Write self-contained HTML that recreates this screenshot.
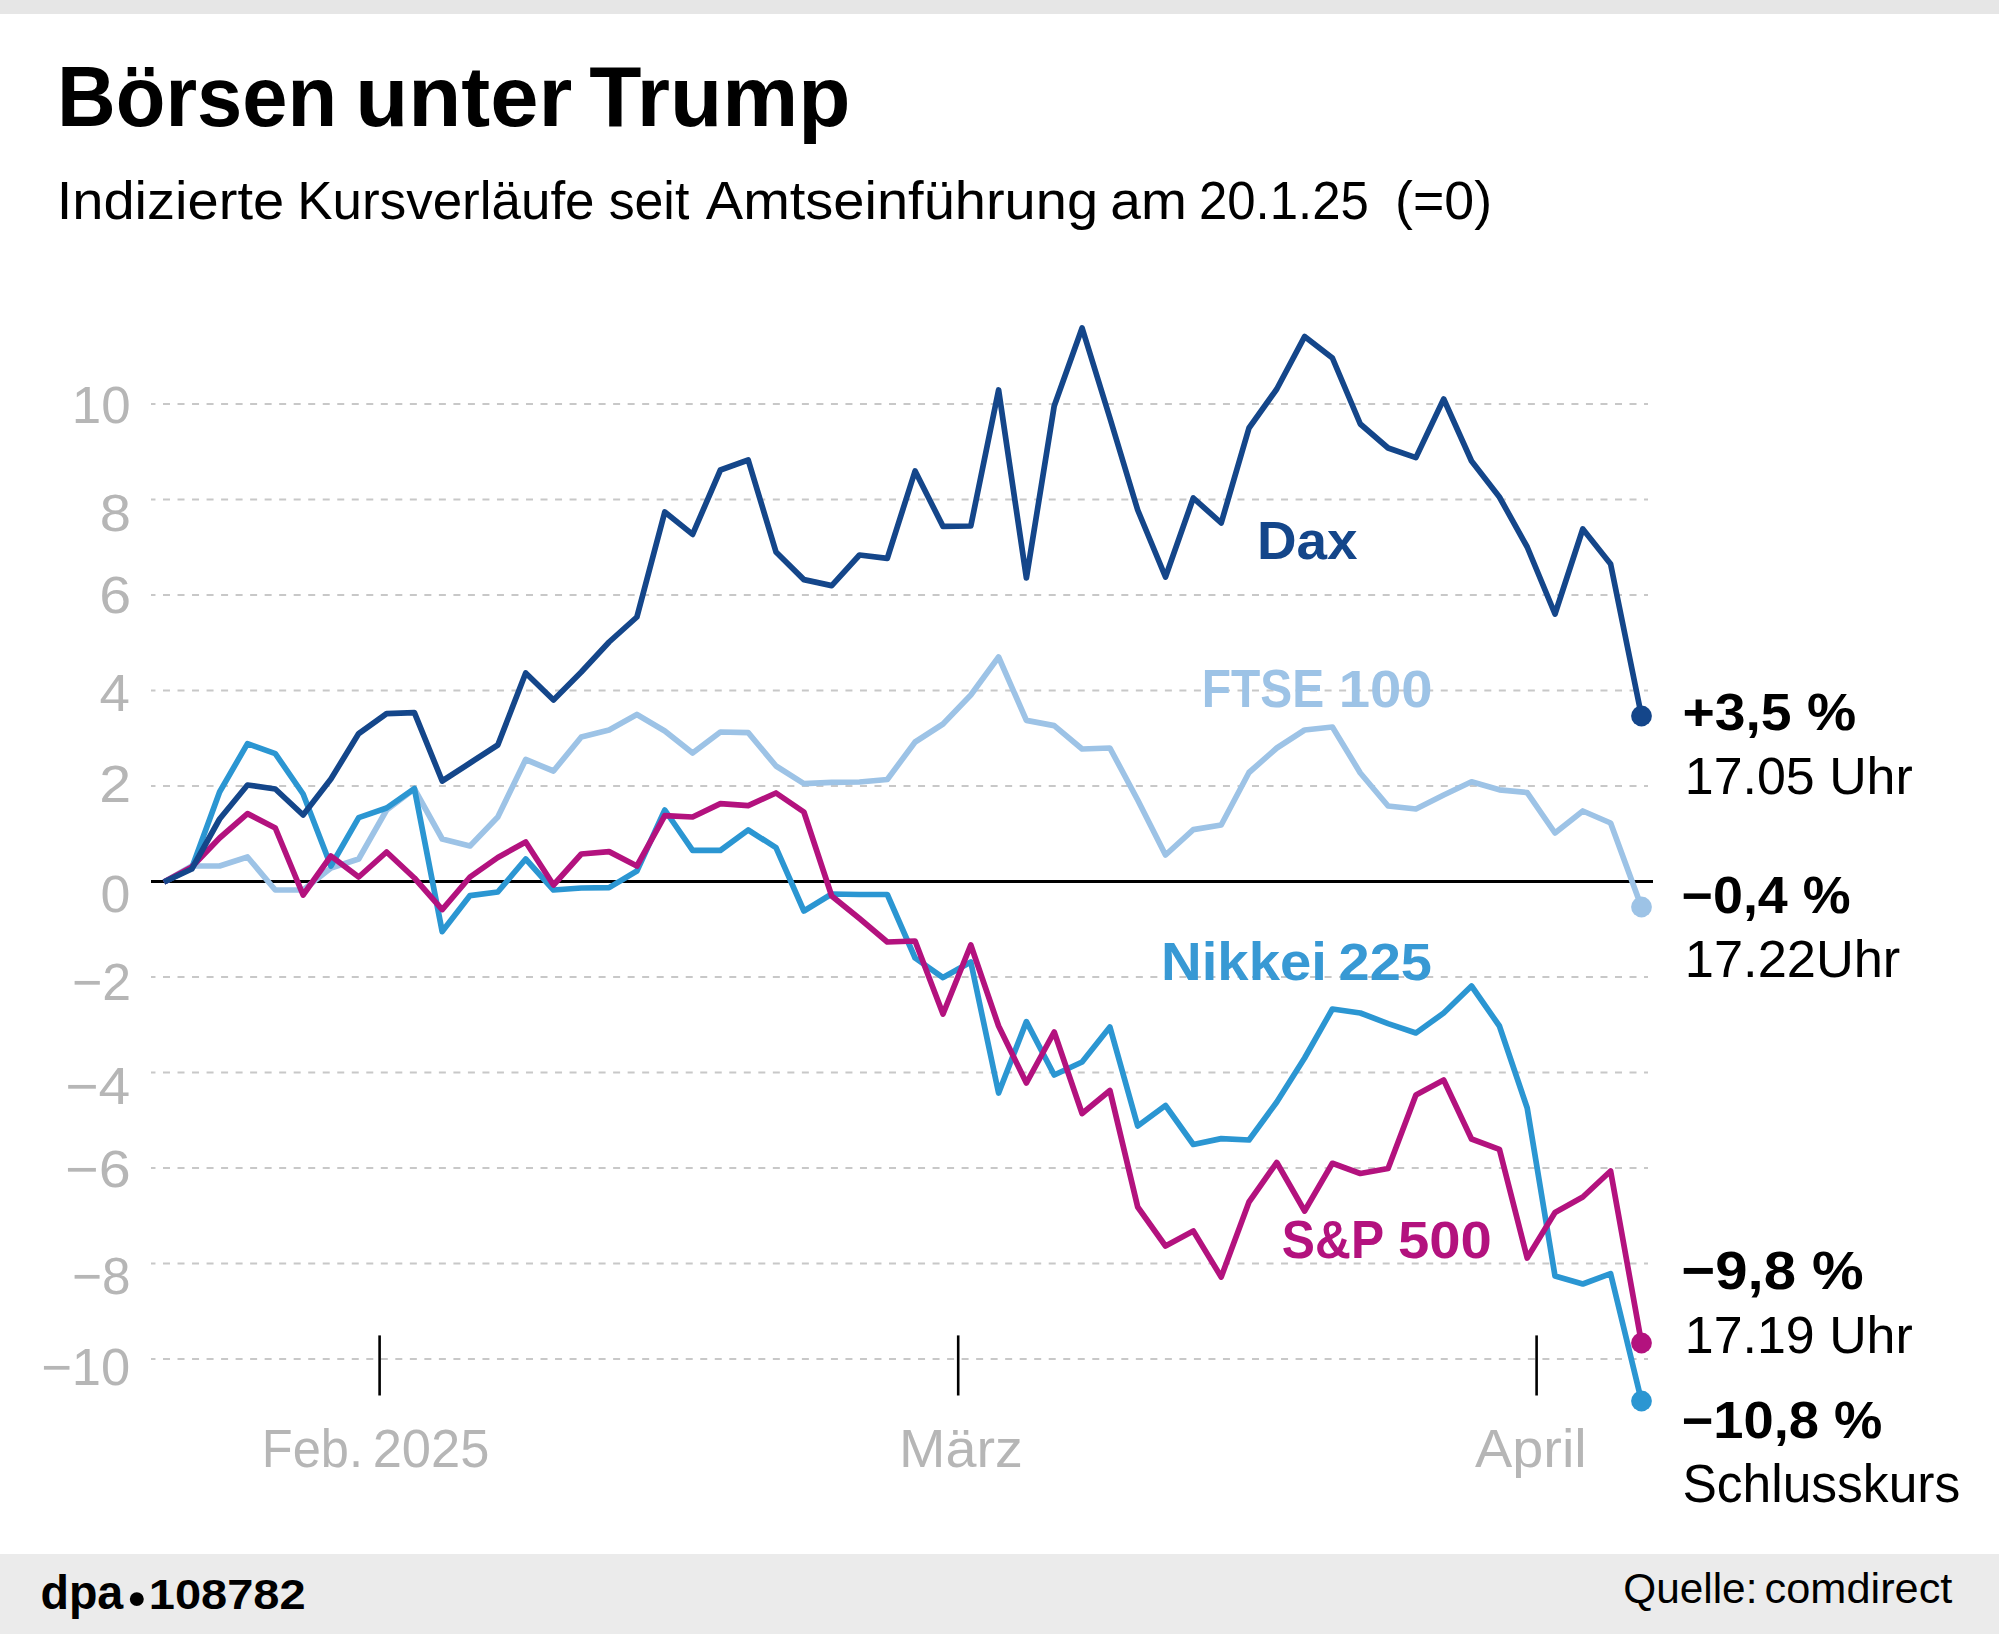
<!DOCTYPE html>
<html lang="de"><head><meta charset="utf-8"><title>Börsen unter Trump</title>
<style>html,body{margin:0;padding:0;background:#fff}svg{display:block}text{font-family:'Liberation Sans', sans-serif;white-space:pre}</style></head>
<body>
<svg width="1999" height="1634" viewBox="0 0 1999 1634">
<rect width="1999" height="1634" fill="#fff"/>
<rect x="0" y="0" width="1999" height="14" fill="#e6e6e6"/>
<rect x="0" y="1554" width="1999" height="80" fill="#ebebeb"/>
<line x1="151" x2="1648" y1="404.00" y2="404.00" stroke="#c8c8c8" stroke-width="2.1" stroke-dasharray="7 7.52" stroke-dashoffset="2.52"/>
<line x1="151" x2="1648" y1="499.50" y2="499.50" stroke="#c8c8c8" stroke-width="2.1" stroke-dasharray="7 7.52" stroke-dashoffset="2.52"/>
<line x1="151" x2="1648" y1="595.00" y2="595.00" stroke="#c8c8c8" stroke-width="2.1" stroke-dasharray="7 7.52" stroke-dashoffset="2.52"/>
<line x1="151" x2="1648" y1="690.50" y2="690.50" stroke="#c8c8c8" stroke-width="2.1" stroke-dasharray="7 7.52" stroke-dashoffset="2.52"/>
<line x1="151" x2="1648" y1="786.00" y2="786.00" stroke="#c8c8c8" stroke-width="2.1" stroke-dasharray="7 7.52" stroke-dashoffset="2.52"/>
<line x1="151" x2="1648" y1="977.00" y2="977.00" stroke="#c8c8c8" stroke-width="2.1" stroke-dasharray="7 7.52" stroke-dashoffset="2.52"/>
<line x1="151" x2="1648" y1="1072.50" y2="1072.50" stroke="#c8c8c8" stroke-width="2.1" stroke-dasharray="7 7.52" stroke-dashoffset="2.52"/>
<line x1="151" x2="1648" y1="1168.00" y2="1168.00" stroke="#c8c8c8" stroke-width="2.1" stroke-dasharray="7 7.52" stroke-dashoffset="2.52"/>
<line x1="151" x2="1648" y1="1263.50" y2="1263.50" stroke="#c8c8c8" stroke-width="2.1" stroke-dasharray="7 7.52" stroke-dashoffset="2.52"/>
<line x1="151" x2="1648" y1="1359.00" y2="1359.00" stroke="#c8c8c8" stroke-width="2.1" stroke-dasharray="7 7.52" stroke-dashoffset="2.52"/>
<line x1="151" x2="1653" y1="881.5" y2="881.5" stroke="#000" stroke-width="2.9"/>
<line x1="379.6" x2="379.6" y1="1335.4" y2="1395.5" stroke="#000" stroke-width="2.6"/>
<line x1="958.2" x2="958.2" y1="1335.4" y2="1395.5" stroke="#000" stroke-width="2.6"/>
<line x1="1536.6" x2="1536.6" y1="1335.4" y2="1395.5" stroke="#000" stroke-width="2.6"/>
<polyline points="164.0,882.0 191.8,866.0 219.6,866.0 247.5,857.0 275.3,890.0 303.1,890.0 330.9,868.0 358.7,859.0 386.6,810.0 414.4,789.0 442.2,839.0 470.0,846.0 497.8,817.0 525.7,759.5 553.5,771.0 581.3,737.0 609.1,730.0 636.9,714.5 664.8,731.0 692.6,753.0 720.4,732.0 748.2,732.6 776.0,766.0 803.9,783.6 831.7,782.4 859.5,782.0 887.3,779.5 915.1,742.0 943.0,724.0 970.8,695.0 998.6,657.0 1026.4,720.4 1054.2,725.6 1082.1,749.0 1109.9,748.0 1137.7,800.0 1165.5,855.0 1193.3,829.6 1221.2,825.0 1249.0,772.5 1276.8,748.0 1304.6,730.0 1332.4,727.0 1360.3,773.0 1388.1,806.0 1415.9,809.0 1443.7,795.0 1471.5,781.8 1499.4,789.8 1527.2,792.6 1555.0,833.0 1582.8,811.0 1610.6,823.0 1641.5,907.0" fill="none" stroke="#9dc3e6" stroke-width="5.7" stroke-linejoin="round" stroke-linecap="butt"/>
<polyline points="164.0,882.0 191.8,868.0 219.6,792.0 247.5,743.6 275.3,753.6 303.1,794.0 330.9,866.0 358.7,817.6 386.6,808.0 414.4,788.6 442.2,931.6 470.0,895.6 497.8,892.0 525.7,859.0 553.5,890.0 581.3,888.0 609.1,887.6 636.9,871.0 664.8,810.0 692.6,850.4 720.4,850.4 748.2,830.0 776.0,847.6 803.9,911.0 831.7,894.0 859.5,894.5 887.3,894.5 915.1,958.0 943.0,977.6 970.8,962.0 998.6,1093.0 1026.4,1021.6 1054.2,1075.0 1082.1,1062.0 1109.9,1027.0 1137.7,1126.0 1165.5,1105.5 1193.3,1144.5 1221.2,1138.6 1249.0,1140.0 1276.8,1102.0 1304.6,1058.0 1332.4,1009.0 1360.3,1013.0 1388.1,1023.6 1415.9,1033.0 1443.7,1013.0 1471.5,986.0 1499.4,1026.0 1527.2,1108.0 1555.0,1276.0 1582.8,1284.0 1610.6,1273.6 1641.5,1401.0" fill="none" stroke="#2b96d2" stroke-width="5.7" stroke-linejoin="round" stroke-linecap="butt"/>
<polyline points="164.0,882.0 191.8,867.0 219.6,838.0 247.5,813.6 275.3,828.0 303.1,895.0 330.9,856.0 358.7,877.0 386.6,852.0 414.4,878.0 442.2,909.6 470.0,877.0 497.8,857.5 525.7,842.0 553.5,885.0 581.3,854.0 609.1,851.6 636.9,866.0 664.8,815.6 692.6,817.0 720.4,803.6 748.2,805.6 776.0,793.0 803.9,812.0 831.7,896.0 859.5,918.5 887.3,942.0 915.1,941.0 943.0,1014.0 970.8,945.0 998.6,1026.0 1026.4,1083.0 1054.2,1032.0 1082.1,1113.5 1109.9,1090.5 1137.7,1207.0 1165.5,1246.0 1193.3,1231.0 1221.2,1277.0 1249.0,1202.0 1276.8,1162.5 1304.6,1211.0 1332.4,1163.3 1360.3,1173.5 1388.1,1168.5 1415.9,1095.0 1443.7,1080.0 1471.5,1139.0 1499.4,1149.3 1527.2,1258.0 1555.0,1212.5 1582.8,1197.0 1610.6,1171.0 1641.5,1343.0" fill="none" stroke="#b3127e" stroke-width="5.7" stroke-linejoin="round" stroke-linecap="butt"/>
<polyline points="164.0,882.0 191.8,869.0 219.6,819.0 247.5,785.0 275.3,789.0 303.1,815.0 330.9,779.0 358.7,733.6 386.6,713.6 414.4,712.6 442.2,781.0 470.0,763.0 497.8,745.0 525.7,673.0 553.5,700.0 581.3,672.0 609.1,642.0 636.9,617.0 664.8,512.0 692.6,534.4 720.4,470.0 748.2,460.0 776.0,552.0 803.9,579.6 831.7,585.6 859.5,555.0 887.3,558.4 915.1,471.0 943.0,526.4 970.8,526.0 998.6,390.0 1026.4,578.0 1054.2,406.0 1082.1,328.0 1109.9,418.0 1137.7,510.0 1165.5,577.0 1193.3,498.0 1221.2,523.0 1249.0,428.0 1276.8,389.0 1304.6,336.6 1332.4,358.0 1360.3,424.0 1388.1,448.0 1415.9,457.6 1443.7,399.0 1471.5,461.0 1499.4,497.0 1527.2,547.0 1555.0,614.0 1582.8,529.0 1610.6,564.0 1641.5,716.0" fill="none" stroke="#14468a" stroke-width="5.7" stroke-linejoin="round" stroke-linecap="butt"/>
<circle cx="1641.5" cy="907" r="10.4" fill="#9dc3e6"/>
<circle cx="1641.5" cy="1401" r="10.4" fill="#2b96d2"/>
<circle cx="1641.5" cy="1343" r="10.4" fill="#b3127e"/>
<circle cx="1641.5" cy="716" r="10.4" fill="#14468a"/>
<text transform="translate(57.00,126.10) scale(0.9572,1)" font-weight="bold" font-size="85" fill="#000">Börsen </text>
<text transform="translate(355.19,126.10) scale(1.0224,1)" font-weight="bold" font-size="85" fill="#000">unter </text>
<text transform="translate(589.35,126.10) scale(1.0051,1)" font-weight="bold" font-size="85" fill="#000">Trump</text>
<text transform="translate(56.65,218.60) scale(1.0350,1)" font-weight="normal" font-size="54.2" fill="#000">Indizierte </text>
<text transform="translate(297.26,218.60) scale(0.9773,1)" font-weight="normal" font-size="54.2" fill="#000">Kursverläufe </text>
<text transform="translate(608.64,218.60) scale(0.9565,1)" font-weight="normal" font-size="54.2" fill="#000">seit </text>
<text transform="translate(705.80,218.60) scale(1.0334,1)" font-weight="normal" font-size="54.2" fill="#000">Amtseinführung </text>
<text transform="translate(1110.30,218.60) scale(1.0162,1)" font-weight="normal" font-size="54.2" fill="#000">am </text>
<text transform="translate(1198.95,218.60) scale(0.9396,1)" font-weight="normal" font-size="54.2" fill="#000">20.1.25 </text>
<text transform="translate(1395.08,218.60) scale(0.9906,1)" font-weight="normal" font-size="54.2" fill="#000">(=0)</text>
<text transform="translate(71.77,423.00) scale(1.0179,1)" font-weight="normal" font-size="52" fill="#b6b6b6">10</text>
<text transform="translate(99.75,530.50) scale(1.0802,1)" font-weight="normal" font-size="52" fill="#b6b6b6">8</text>
<text transform="translate(99.13,613.00) scale(1.1037,1)" font-weight="normal" font-size="52" fill="#b6b6b6">6</text>
<text transform="translate(99.41,711.00) scale(1.0520,1)" font-weight="normal" font-size="52" fill="#b6b6b6">4</text>
<text transform="translate(99.13,802.00) scale(1.1037,1)" font-weight="normal" font-size="52" fill="#b6b6b6">2</text>
<text transform="translate(100.45,912.00) scale(1.0337,1)" font-weight="normal" font-size="52" fill="#b6b6b6">0</text>
<text transform="translate(71.91,1000.00) scale(0.9967,1)" font-weight="normal" font-size="52" fill="#b6b6b6">−2</text>
<text transform="translate(65.15,1104.00) scale(1.0958,1)" font-weight="normal" font-size="52" fill="#b6b6b6">−4</text>
<text transform="translate(65.12,1186.50) scale(1.1062,1)" font-weight="normal" font-size="52" fill="#b6b6b6">−6</text>
<text transform="translate(71.93,1293.50) scale(0.9872,1)" font-weight="normal" font-size="52" fill="#b6b6b6">−8</text>
<text transform="translate(41.17,1385.00) scale(1.0105,1)" font-weight="normal" font-size="52" fill="#b6b6b6">−10</text>
<text transform="translate(1682.39,730.00) scale(1.0845,1)" font-weight="bold" font-size="51" fill="#000">+3,5 %</text>
<text transform="translate(1684.85,793.80) scale(0.9983,1)" font-weight="normal" font-size="52" fill="#000">17.05 Uhr</text>
<text transform="translate(1681.55,912.90) scale(1.0551,1)" font-weight="bold" font-size="51" fill="#000">−0,4 %</text>
<text transform="translate(1684.81,977.30) scale(1.0075,1)" font-weight="normal" font-size="52" fill="#000">17.22Uhr</text>
<text transform="translate(1681.38,1288.50) scale(1.0651,1)" font-weight="bold" font-size="54.5" fill="#000">−9,8 %</text>
<text transform="translate(1684.85,1352.50) scale(0.9983,1)" font-weight="normal" font-size="52" fill="#000">17.19 Uhr</text>
<text transform="translate(1681.63,1438.30) scale(1.0647,1)" font-weight="bold" font-size="51" fill="#000">−10,8 %</text>
<text transform="translate(1682.42,1501.80) scale(0.9726,1)" font-weight="normal" font-size="53" fill="#000">Schlusskurs</text>
<text transform="translate(1256.96,559.30) scale(1.0254,1)" font-weight="bold" font-size="53.5" fill="#14468a">Dax</text>
<text transform="translate(1201.85,706.80) scale(0.8957,1)" font-weight="bold" font-size="53.5" fill="#9dc3e6">FTSE </text>
<text transform="translate(1338.73,706.80) scale(1.0713,1)" font-weight="bold" font-size="52.5" fill="#9dc3e6">100</text>
<text transform="translate(1161.06,979.70) scale(1.0521,1)" font-weight="bold" font-size="53.5" fill="#3899d4">Nikkei </text>
<text transform="translate(1338.62,979.70) scale(1.0660,1)" font-weight="bold" font-size="52.5" fill="#3899d4">225</text>
<text transform="translate(1281.81,1258.20) scale(0.9299,1)" font-weight="bold" font-size="53.5" fill="#b3127e">S&amp;P </text>
<text transform="translate(1397.91,1258.20) scale(1.0714,1)" font-weight="bold" font-size="52.5" fill="#b3127e">500</text>
<text transform="translate(261.75,1466.70) scale(0.9285,1)" font-weight="normal" font-size="54.5" fill="#b6b6b6">Feb. </text>
<text transform="translate(372.68,1466.70) scale(0.9811,1)" font-weight="normal" font-size="53.5" fill="#b6b6b6">2025</text>
<text transform="translate(899.04,1466.60) scale(1.0323,1)" font-weight="normal" font-size="54" fill="#b6b6b6">März</text>
<text transform="translate(1475.00,1467.00) scale(1.0344,1)" font-weight="normal" font-size="54" fill="#b6b6b6">April</text>
<text transform="translate(40.44,1609.00) scale(0.9812,1)" font-weight="bold" font-size="47.5" fill="#000">dpa</text>
<text transform="translate(128.33,1614.90) scale(1.0000,1)" font-weight="bold" font-size="48.97" fill="#000">•</text>
<text transform="translate(148.78,1609.00) scale(1.1008,1)" font-weight="bold" font-size="42.7" fill="#000">108782</text>
<text transform="translate(1623.18,1602.70) scale(1.0138,1)" font-weight="normal" font-size="41.8" fill="#000">Quelle: </text>
<text transform="translate(1764.57,1602.70) scale(1.0367,1)" font-weight="normal" font-size="41.8" fill="#000">comdirect</text>
</svg>
</body></html>
